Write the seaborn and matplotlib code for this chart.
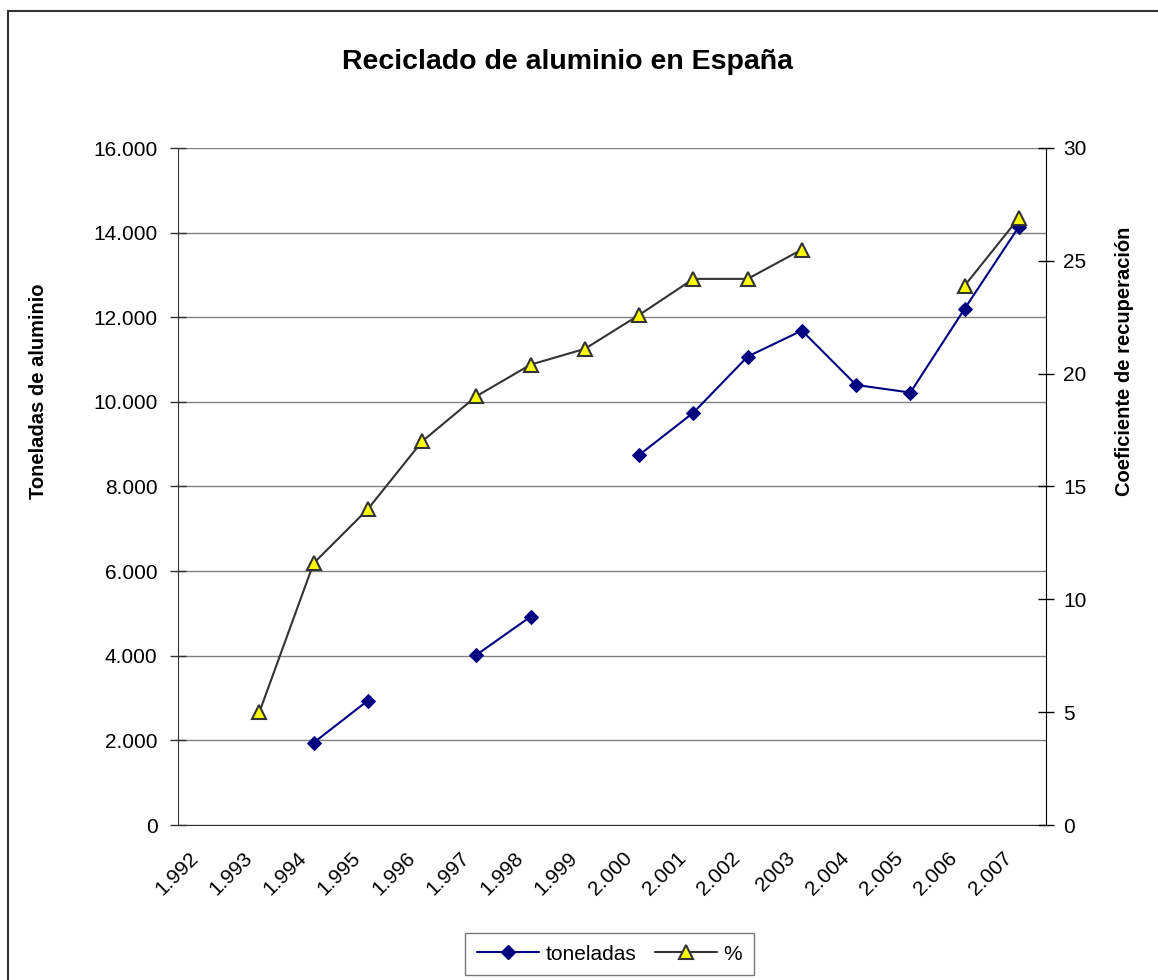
import numpy as np
import pandas as pd
import matplotlib
matplotlib.use('Agg')
import matplotlib.pyplot as plt
import seaborn as sns
from matplotlib.lines import Line2D
from matplotlib.patches import Rectangle
from matplotlib.ticker import FuncFormatter, MultipleLocator

# Datos
anios = ['1.992', '1.993', '1.994', '1.995', '1.996', '1.997', '1.998', '1.999',
         '2.000', '2.001', '2.002', '2003', '2.004', '2.005', '2.006', '2.007']
toneladas = [np.nan, np.nan, 1945, 2940, np.nan, 4020, 4925, np.nan,
             8745, 9745, 11070, 11685, 10400, 10220, 12200, 14140]
porcentaje = [np.nan, 5.0, 11.6, 14.0, 17.0, 19.0, 20.4, 21.1,
              22.6, 24.2, 24.2, 25.5, np.nan, np.nan, 23.9, 26.9]

sns.set_style('white')
plt.rcParams['font.family'] = ['Liberation Sans', 'DejaVu Sans']
plt.rcParams['text.color'] = 'black'
plt.rcParams['axes.labelcolor'] = 'black'
plt.rcParams['xtick.color'] = 'black'
plt.rcParams['ytick.color'] = 'black'

df = pd.DataFrame({'pos': np.arange(len(anios)), 'anio': anios,
                   'toneladas': toneladas, 'porcentaje': porcentaje})
# cada hueco corta la línea -> un tramo distinto
df['seg_t'] = df['toneladas'].isna().cumsum()
df['seg_p'] = df['porcentaje'].isna().cumsum()

AZUL = '#000080'
GRIS = '#333333'
AMARILLO = '#FFFF00'

fig = plt.figure(figsize=(11.58, 9.8), dpi=100)
ax = fig.add_axes([178 / 1158, 1 - 825 / 980, 868 / 1158, 677 / 980])
ax2 = ax.twinx()

sns.lineplot(data=df.dropna(subset=['toneladas']), x='pos', y='toneladas',
             units='seg_t', estimator=None, color=AZUL, lw=1.5, marker='D',
             markersize=7, markeredgecolor=AZUL, ax=ax, legend=False)
sns.lineplot(data=df.dropna(subset=['porcentaje']), x='pos', y='porcentaje',
             units='seg_p', estimator=None, color=GRIS, lw=1.5, marker='^',
             markersize=10, markerfacecolor=AMARILLO, markeredgecolor=GRIS,
             markeredgewidth=1.5, ax=ax2, legend=False)

# eje izquierdo
ax.set_ylim(0, 16000)
ax.yaxis.set_major_locator(MultipleLocator(2000))
ax.yaxis.set_major_formatter(FuncFormatter(lambda v, p: f"{int(v):,}".replace(',', '.')))
ax.grid(axis='y', color='#808080', lw=1)
ax.grid(axis='x', visible=False)
ax.set_axisbelow(True)

# eje de categorías: marcas entre categorías, etiquetas en el centro
ax.set_xlim(-0.5, len(anios) - 0.5)
ax.set_xticks(np.arange(len(anios) + 1) - 0.5)
ax.set_xticklabels([])
ax.set_xticks(df['pos'] - 0.31, labels=anios, minor=True)
ax.tick_params(axis='x', which='major', direction='inout', length=9.5, width=1, color=GRIS)
ax.tick_params(axis='x', which='minor', length=0, pad=17, labelsize=15)
for lab in ax.get_xticklabels(minor=True):
    lab.set_rotation(45)
    lab.set_ha('right')
    lab.set_va('top')
    lab.set_rotation_mode('anchor')

ax.tick_params(axis='y', direction='inout', length=11.5, width=1, color=GRIS,
               labelsize=15, pad=9)
ax.set_xlabel('')
ax.set_ylabel('Toneladas de aluminio', fontsize=14.5, fontweight='bold')
ax.yaxis.set_label_coords(-0.1498, 0.641)

# eje derecho
ax2.set_ylim(0, 30)
ax2.yaxis.set_major_locator(MultipleLocator(5))
ax2.grid(False)
ax2.tick_params(axis='y', direction='inout', length=12, width=1, color='black',
                labelsize=15, pad=6.5)
ax2.set_ylabel('Coeficiente de recuperación', fontsize=14.5, fontweight='bold')
ax2.yaxis.set_label_coords(1.0795, 0.685)

for a in (ax, ax2):
    for s in a.spines.values():
        s.set_visible(False)
ax.spines['left'].set_visible(True)
ax.spines['left'].set_color(GRIS)
ax.spines['bottom'].set_visible(True)
ax.spines['bottom'].set_color(GRIS)
ax2.spines['right'].set_visible(True)
ax2.spines['right'].set_color('black')

fig.text(567 / 1158, 1 - 62 / 980, 'Reciclado de aluminio en España',
         ha='center', va='center', fontsize=20.5, fontweight='bold', color='black')

# leyenda
handles = [
    Line2D([], [], color=AZUL, lw=1.5, marker='D', markersize=7, markeredgecolor=AZUL),
    Line2D([], [], color=GRIS, lw=1.5, marker='^', markersize=10,
           markerfacecolor=AMARILLO, markeredgecolor=GRIS, markeredgewidth=1.5),
]
leg = fig.legend(handles, ['toneladas', '%'], loc='center', ncol=2,
                 bbox_to_anchor=(609.5 / 1158, 1 - 954 / 980), fontsize=15,
                 frameon=True, fancybox=False, handlelength=3.0,
                 columnspacing=0.9, handletextpad=0.3, borderpad=0.55)
leg.get_frame().set_edgecolor('#555555')
leg.get_frame().set_linewidth(1)

# marco exterior del gráfico
fig.add_artist(Rectangle((8 / 1158, -0.1), 1.2, 1 - 11 / 980 + 0.1,
                         transform=fig.transFigure, fill=False,
                         edgecolor=GRIS, lw=1.5))

fig.savefig('out.png', dpi=100)
